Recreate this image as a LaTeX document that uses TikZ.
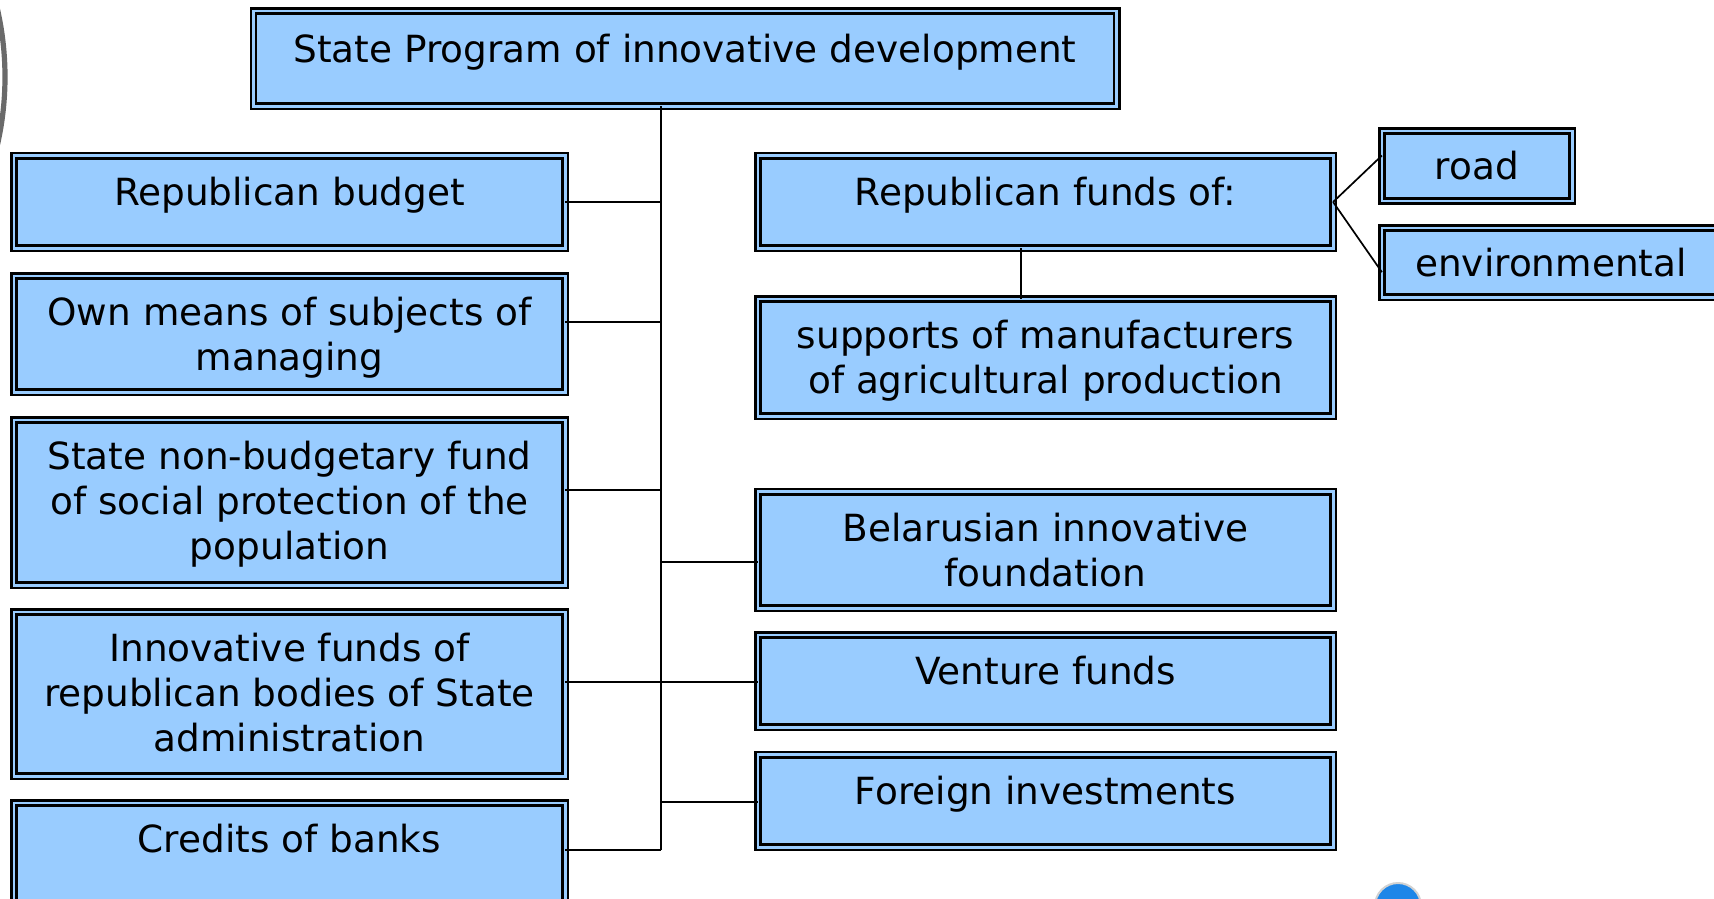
\documentclass[tikz,border=0pt]{standalone}
\usepackage{fontspec}
\setmainfont{DejaVu Sans}
\usetikzlibrary{calc}
\definecolor{boxblue}{HTML}{99CCFF}
\definecolor{dotblue}{HTML}{1E86E8}
\definecolor{arcgray}{HTML}{6A6A6A}
\tikzset{
  box/.style={draw=black, line width=1.25pt, double=boxblue, double distance=1.4pt,
    fill=boxblue, inner sep=0pt, outer sep=0pt, align=center,
    font=\fontsize{18.7pt}{22.5pt}\selectfont},
  upper/.style={text height=14pt, text depth=10.5pt},
  upperx/.style={text height=14pt, text depth=16.4pt},
  conn/.style={draw=black, line width=0.85pt},
}
\begin{document}
\begin{tikzpicture}[x=0.5pt, y=-0.5pt]
\useasboundingbox (0,0) rectangle (1714,899);
\clip (0,0) rectangle (1714,899);
\fill[white] (0,0) rectangle (1714,899);
% decorative shapes
\draw[arcgray, line width=2.6pt] (-300,77) circle[radius=152.5pt];
\fill[dotblue, draw=gray!35, line width=1pt] (1398,906) circle[radius=11.5pt];

% boxes
\node[box, upper, minimum width=431.6pt, minimum height=47.6pt] (top) at (685,58.7) {State Program of innovative development};

\node[box, upper, minimum width=275.6pt, minimum height=46.3pt] (budget) at (289.5,202) {Republican budget};
\node[box, minimum width=275.6pt, minimum height=58.1pt] (own) at (289.5,334) {\rule{0pt}{17.6pt}Own means of subjects of\\managing};
\node[box, minimum width=275.6pt, minimum height=82.6pt] (state) at (289.5,502.5) {\rule{0pt}{15.6pt}State non-budgetary fund\\of social protection of the\\population};
\node[box, minimum width=275.6pt, minimum height=82.1pt] (innov) at (289.5,694) {Innovative funds of\\republican bodies of State\\administration\rule[-2pt]{0pt}{1pt}};
\node[box, upperx, minimum width=275.6pt, minimum height=52.1pt] (credits) at (289.5,855) {Credits of banks};

\node[box, upper, minimum width=287.6pt, minimum height=46.3pt] (funds) at (1045.5,202) {Republican funds of:};
\node[box, minimum width=287.6pt, minimum height=58.6pt] (supports) at (1045.5,357.5) {\rule{0pt}{17.6pt}supports of manufacturers\\of agricultural production};
\node[box, minimum width=287.6pt, minimum height=58.3pt] (belarus) at (1045.5,550) {Belarusian innovative\\foundation};
\node[box, upper, minimum width=287.6pt, minimum height=46.1pt] (venture) at (1045.5,681) {Venture funds};
\node[box, upper, minimum width=287.6pt, minimum height=46.3pt] (foreign) at (1045.5,801) {Foreign investments};

\node[box, minimum width=95.1pt, minimum height=34.9pt] (road) at (1477,166) {road};
\node[box, minimum width=169.1pt, minimum height=34.6pt] (env) at (1551,262.5) {environmental};

% joints
\coordinate (jb) at (661,202);
\coordinate (jo) at (661,322);
\coordinate (js) at (661,490);
\coordinate (jbi) at (661,562);
\coordinate (ji) at (661,682);
\coordinate (jf) at (661,802);
\coordinate (jc) at (661,850);
\coordinate (sx) at (1021,280);

% connectors
\draw[conn] (top.south -| jb) -- (jc);
\draw[conn] (jb) -- (budget.east |- jb);
\draw[conn] (jo) -- (own.east |- jo);
\draw[conn] (js) -- (state.east |- js);
\draw[conn] (innov.east |- ji) -- (venture.west |- ji);
\draw[conn] (jc) -- (credits.east |- jc);
\draw[conn] (jbi) -- (belarus.west |- jbi);
\draw[conn] (jf) -- (foreign.west |- jf);
\draw[conn] (funds.south -| sx) -- (supports.north -| sx);
\draw[conn] (funds.east) -- ($(road.north west)!0.35!(road.south west)$);
\draw[conn] (funds.east) -- ($(env.north west)!0.64!(env.south west)$);
\end{tikzpicture}
\end{document}
